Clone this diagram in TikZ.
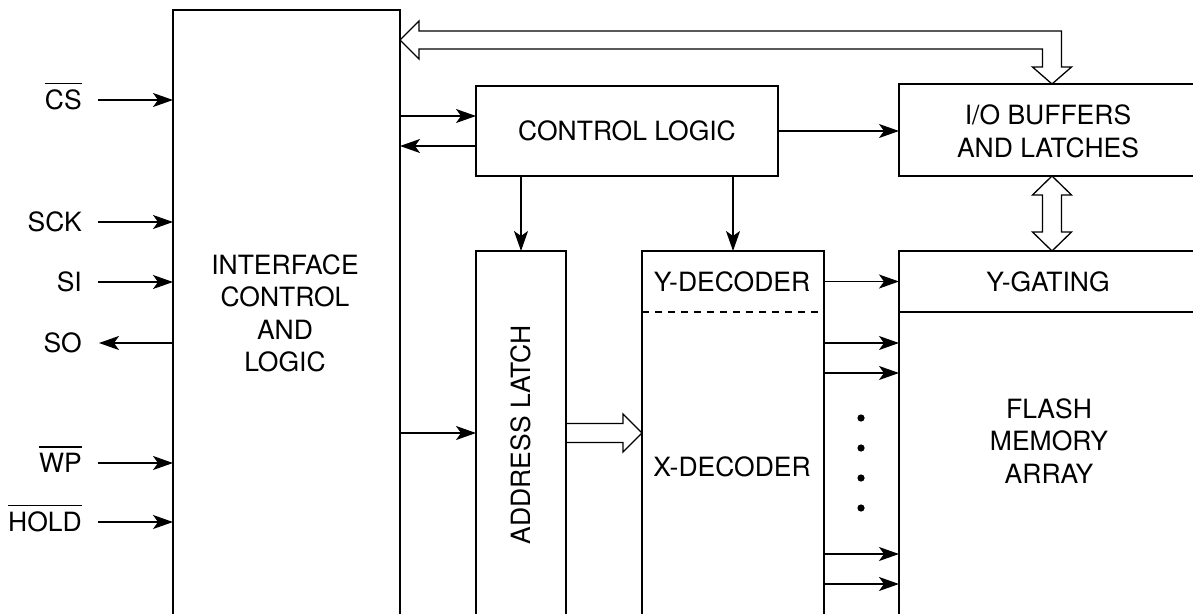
\documentclass[tikz,border=0pt]{standalone}
\usepackage{fontspec}
\setmainfont{TeX Gyre Heros}
\usetikzlibrary{arrows.meta,calc}
\newcommand\ovl[1]{\leavevmode\vbox{\hrule height 1.3pt\kern 5.5pt\hbox{#1}}}
\tikzset{
  blk/.style={draw, line width=2.7pt, outer sep=0pt, inner sep=0pt, anchor=north west},
  sig/.style={line width=1.3pt, -{Stealth[length=20pt,width=14pt,inset=5pt]}},
  hollow/.style={line width=1.3pt, line join=miter},
  txt/.style={font=\fontsize{26.5}{32.5}\selectfont, align=center, inner sep=0pt},
}
\begin{document}
\begin{tikzpicture}[x=1pt,y=-1pt]
\useasboundingbox (0,0) rectangle (1193,613);
\clip (0,0) rectangle (1193,613);

% blocks
\node[blk, minimum width=227pt, minimum height=640pt] (iface) at (173,10) {};
\node[blk, minimum width=302pt, minimum height=90pt]  (ctrl)  at (476,86) {};
\node[blk, minimum width=306pt, minimum height=92pt]  (io)    at (899,84) {};
\node[blk, minimum width=90pt,  minimum height=400pt] (addr)  at (476,251) {};
\node[blk, minimum width=182pt, minimum height=400pt] (dec)   at (642,251) {};
\node[blk, minimum width=306pt, minimum height=61pt]  (yg)    at (899,251) {};
\node[blk, minimum width=306pt, minimum height=340pt] (flash) at (899,312) {};
\draw[line width=2.4pt, dash pattern=on 7pt off 6pt] (dec.west |- 0,312) coordinate (dl) -- (dec.east |- dl);

% texts
\node[txt] (tiface) at (285,313.5) {INTERFACE\\CONTROL\\AND\\LOGIC};
\node[txt] (tctrl) at (ctrl.center) {CONTROL LOGIC};
\node[txt] (tio) at (1048,131.5) {I/O BUFFERS\\AND LATCHES};
\node[txt] (tyg) at (1048,282) {Y-GATING};
\node[txt] (tflash) at (1049,441) {FLASH\\MEMORY\\ARRAY};
\node[txt] (tyd) at (732,282) {Y-DECODER};
\node[txt] (txd) at (732,467) {X-DECODER};
\node[txt, rotate=90] (taddr) at (521,435) {ADDRESS LATCH};

% external signals
\coordinate (pcs) at (98,100);
\coordinate (psck) at (98,222);
\coordinate (psi) at (98,282);
\coordinate (pso) at (99,343);
\coordinate (pwp) at (98,463);
\coordinate (phold) at (98,522);
\node[txt, anchor=base east] (lcs) at (82,109.5) {\ovl{CS}};
\node[txt, anchor=base east] (lsck) at (82,231.5) {SCK};
\node[txt, anchor=base east] (lsi) at (82,291.5) {SI};
\node[txt, anchor=base east] (lso) at (82,352.5) {SO};
\node[txt, anchor=base east] (lwp) at (82,472.5) {\ovl{WP}};
\node[txt, anchor=base east] (lhold) at (82,531.5) {\ovl{HOLD}};
\draw[sig] (pcs) -- (pcs -| iface.west);
\draw[sig] (psck) -- (psck -| iface.west);
\draw[sig] (psi) -- (psi -| iface.west);
\draw[sig] (pso -| iface.west) -- (pso);
\draw[sig] (pwp) -- (pwp -| iface.west);
\draw[sig] (phold) -- (phold -| iface.west);

% internal thin connectors
\coordinate (r1) at (0,116);
\coordinate (r2) at (0,146);
\coordinate (r3) at (0,433);
\draw[sig] (iface.east |- r1) -- (ctrl.west |- r1);
\draw[sig] (ctrl.west |- r2) -- (iface.east |- r2);
\draw[sig] (ctrl.east) -- (ctrl.east -| io.west);
\draw[sig] (addr.north |- ctrl.south) -- (addr.north);
\draw[sig] (dec.north |- ctrl.south) -- (dec.north);
\draw[sig] (iface.east |- r3) -- (addr.west |- r3);
\draw[sig] (dec.east |- yg.west) -- (yg.west);
\foreach \yy in {343,373,554,584}{
  \draw[sig] (dec.east |- 0,\yy) -- (flash.west |- 0,\yy);
}
\foreach \yy in {418,448,478,508}{
  \fill (861,\yy) circle[radius=3.6pt];
}

% hollow bus arrows
\coordinate (T) at (iface.east |- 0,40);
\coordinate (B) at (io.north);
\draw[hollow] (T) -- ++(19,-19) -- ++(0,10) -- ($(B|-T)+(9.5,-9)$) -- ($(B)+(9.5,-17)$)
  -- ++(10,0) -- (B) -- ++(-19.5,-17) -- ++(10,0) -- ($(B|-T)+(-9.5,9)$)
  -- ($(T)+(19,9)$) -- ++(0,10) -- cycle;
\draw[hollow] (io.south) -- ++(19.5,19) -- ++(-10,0) -- ($(yg.north)+(9.5,-19)$)
  -- ++(10,0) -- (yg.north) -- ++(-19.5,-19) -- ++(10,0) -- ($(io.south)+(-9.5,19)$)
  -- ++(-10,0) -- cycle;
\draw[hollow] ($(addr.east|-r3)+(0,-9.5)$) -- ($(dec.west|-r3)+(-19,-9.5)$) -- ++(0,-9.5)
  -- (dec.west|-r3) -- ++(-19,19) -- ++(0,-9.5) -- ($(addr.east|-r3)+(0,9.5)$);
\end{tikzpicture}
\end{document}
